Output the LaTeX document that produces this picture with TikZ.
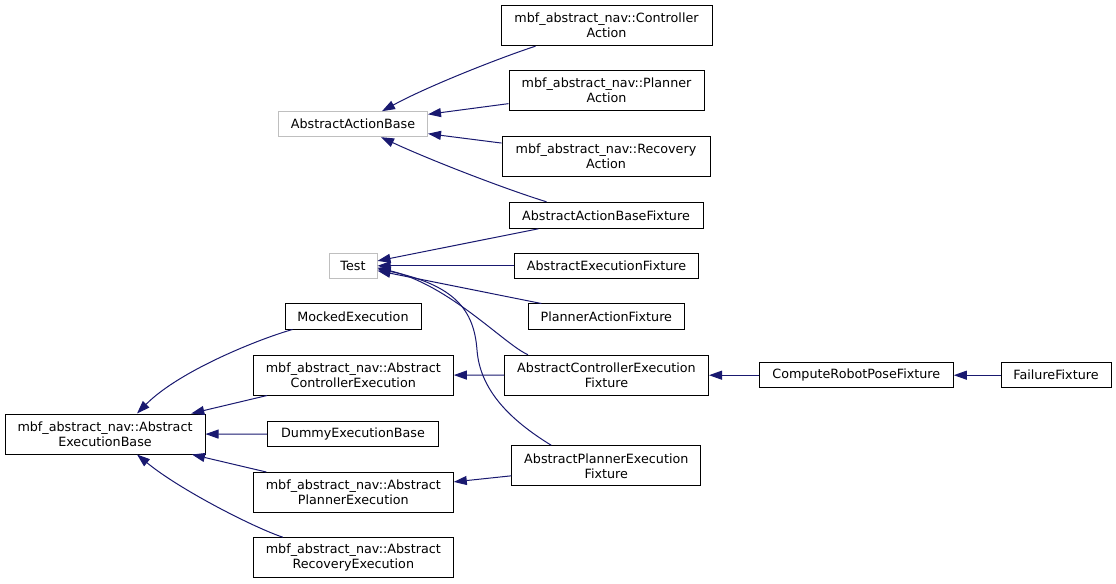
\documentclass[tikz,border=0pt]{standalone}
\usepackage{fontspec}
\setmainfont{DejaVu Sans}
\usetikzlibrary{arrows.meta,calc}
\definecolor{edgeblue}{HTML}{191970}
\definecolor{greyline}{HTML}{BFBFBF}
\begin{document}
\begin{tikzpicture}[x=0.75pt,y=-0.75pt,
  cls/.style={draw=black,line width=0.75pt,fill=white,inner sep=0pt,align=center,
    font=\fontsize{9.55pt}{11.25pt}\selectfont},
  ext/.style={cls,draw=greyline},
  edge/.style={draw=edgeblue,line width=0.75pt,-{Triangle[length=9.75pt,width=6.75pt]}}]
\useasboundingbox[fill=white] (0,0) rectangle (1116,584);
% nodes
\node[cls,minimum width=158.25pt,minimum height=30pt] (ca) at (606.5,25.7) {mbf\_abstract\_nav::Controller\\Action};
\node[cls,minimum width=146.25pt,minimum height=30pt] (pa) at (606.5,90.7) {mbf\_abstract\_nav::Planner\\Action};
\node[cls,minimum width=156pt,minimum height=30pt] (ra) at (606,156.3) {mbf\_abstract\_nav::Recovery\\Action};
\node[ext,minimum width=111.75pt,minimum height=18.75pt] (aab) at (353,124.2) {AbstractActionBase};
\node[cls,minimum width=145.5pt,minimum height=19.5pt] (aabf) at (606,215.3) {AbstractActionBaseFixture};
\node[ext,minimum width=36pt,minimum height=18.75pt] (test) at (353,265.8) {Test};
\node[cls,minimum width=138pt,minimum height=18.75pt] (aef) at (606.5,265.8) {AbstractExecutionFixture};
\node[cls,minimum width=117pt,minimum height=18.75pt] (paf) at (606.3,316.5) {PlannerActionFixture};
\node[cls,minimum width=153pt,minimum height=30pt] (acef) at (606.5,375.2) {AbstractControllerExecution\\Fixture};
\node[cls,minimum width=141.75pt,minimum height=30pt] (apef) at (606.3,465.8) {AbstractPlannerExecution\\Fixture};
\node[cls,minimum width=102pt,minimum height=18.75pt] (me) at (353,316.5) {MockedExecution};
\node[cls,minimum width=150pt,minimum height=30pt] (ace) at (353.3,375) {mbf\_abstract\_nav::Abstract\\ControllerExecution};
\node[cls,minimum width=150pt,minimum height=30pt] (aeb) at (105,434) {mbf\_abstract\_nav::Abstract\\ExecutionBase};
\node[cls,minimum width=128.25pt,minimum height=18.75pt] (deb) at (353,434.2) {DummyExecutionBase};
\node[cls,minimum width=150pt,minimum height=30pt] (ape) at (353.3,492.5) {mbf\_abstract\_nav::Abstract\\PlannerExecution};
\node[cls,minimum width=150pt,minimum height=30pt] (are) at (353.3,557.7) {mbf\_abstract\_nav::Abstract\\RecoveryExecution};
\node[cls,minimum width=145.5pt,minimum height=18.75pt] (crpf) at (856.3,375.2) {ComputeRobotPoseFixture};
\node[cls,minimum width=82.5pt,minimum height=18.75pt] (ff) at (1056,375.2) {FailureFixture};
% edges
\draw[edge] ($(ca.south west)+(35,0)$) .. controls (505,56) and (430,85) .. ($(aab.north)+(29,0)$);
\draw[edge] (pa) -- (aab);
\draw[edge] (ra) -- (aab);
\draw[edge] ($(aabf.north west)+(38,0)$) .. controls (505,189) and (430,160) .. ($(aab.south)+(28,0)$);
\draw[edge] (aabf) -- (test);
\draw[edge] (aef) -- (test);
\draw[edge] (paf) -- (test);
\draw[edge] ($(acef.north west)+(24,0)$) .. controls (505,345) and (450,285) .. ($(test.east)+(0,2)$);
\draw[edge] ($(apef.north west)+(40,0)$) .. controls (510,420) and (480,390) .. (477,350)
  .. controls (474,310) and (455,285) .. ($(test.east)+(0,3)$);
\draw[edge] ($(me.south west)+(8,0)$) .. controls (262,338) and (180,370) .. ($(aeb.north)+(32,0)$);
\draw[edge] (ace) -- (aeb);
\draw[edge] (deb) -- (aeb);
\draw[edge] (ape) -- (aeb);
\draw[edge] ($(are.north west)+(30,0)$) .. controls (255,528) and (180,490) .. ($(aeb.south)+(32,0)$);
\draw[edge] (acef) -- (ace);
\draw[edge] (apef) -- (ape);
\draw[edge] (crpf) -- (acef);
\draw[edge] (ff) -- (crpf);
\end{tikzpicture}
\end{document}
